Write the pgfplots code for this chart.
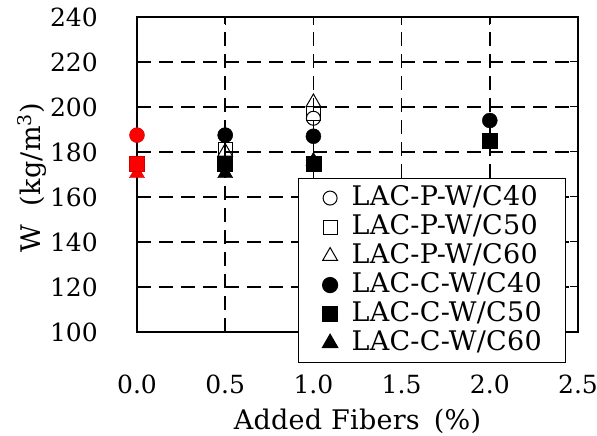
\documentclass[border=0pt]{standalone}
\usepackage{fontspec}
\setmainfont{DejaVu Serif}
\usepackage{pgfplots}
\pgfplotsset{compat=1.18}

\newcommand\tickfont{\fontsize{25}{30}\selectfont}
\newcommand\bigfont{\fontsize{27}{32}\selectfont\addfontfeatures{LetterSpace=1}}

\begin{document}
\begin{tikzpicture}
\begin{axis}[
  name=ax,
  scale only axis, width=441pt, height=315pt,
  xmin=0, xmax=2.5, ymin=100, ymax=240,
  xtick={0,0.5,1,1.5,2,2.5}, ytick={100,120,...,240},
  clip=false,
  grid=major,
  major grid style={black, line width=1.6pt, dash pattern=on 14pt off 8pt},
  axis line style={line width=1.2pt},
  tick style={black, line width=1pt},
  major tick length=8pt,
  tick align=inside,
  xticklabel style={font=\tickfont, anchor=base, yshift=-61pt,
    /pgf/number format/.cd, fixed, fixed zerofill, precision=1, assume math mode=true},
  yticklabel style={font=\tickfont, anchor=east, inner sep=0pt, xshift=-39pt,
    /pgf/number format/assume math mode=true},
  xlabel={Added Fibers\hspace{14pt}(\%)},
  ylabel={W\hspace{18pt}(kg/m\textsuperscript{3})},
  every axis x label/.style={at={(axis description cs:0.5,-0.311)}, anchor=base, font=\bigfont},
  every axis y label/.style={at={(axis description cs:-0.238,0.49)}, anchor=center, rotate=90, font=\bigfont},
  legend cell align=left,
  legend style={at={(0.365,0.489)}, anchor=north west, draw=black, line width=1.2pt,
    fill=white, font=\bigfont, inner xsep=24pt, inner ysep=5pt,
    nodes={inner sep=0pt, text height=22pt, text depth=7pt},
    /tikz/column sep=14pt, /tikz/row sep=0pt},
]
% LAC-P series (open marks)
\addplot[only marks, mark=o, mark size=7pt, mark options={black, line width=1pt}]
  coordinates {(0.5,187.5) (1.0,195)};
\addlegendentry{LAC-P-W/C40}
\addplot[only marks, mark=square, mark size=7pt, mark options={black, line width=1pt}]
  coordinates {(0.5,181) (1.0,197)};
\addlegendentry{LAC-P-W/C50}
\addplot[only marks, mark=triangle, mark size=8.5pt, mark options={black, line width=1pt}]
  coordinates {(0.5,180) (1.0,202)};
\addlegendentry{LAC-P-W/C60}
% LAC-C series (filled marks)
\addplot[only marks, mark=*, mark size=7.5pt, mark options={black, fill=black}]
  coordinates {(0.5,187.5) (1.0,187) (2.0,194)};
\addlegendentry{LAC-C-W/C40}
\addplot[only marks, mark=square*, mark size=7.5pt, mark options={black, fill=black}]
  coordinates {(0.5,175) (1.0,175) (2.0,185)};
\addlegendentry{LAC-C-W/C50}
\addplot[only marks, mark=triangle*, mark size=8.7pt, mark options={black, fill=black}]
  coordinates {(0.5,170.5) (1.0,176)};
\addlegendentry{LAC-C-W/C60}
% plain mix at 0 %
\addplot[forget plot, only marks, mark=*, mark size=7.5pt, mark options={draw=red!80!black, fill=red}]
  coordinates {(0,187.5)};
\addplot[forget plot, only marks, mark=triangle*, mark size=8.7pt, mark options={draw=red!80!black, fill=red}]
  coordinates {(0,170.5)};
\addplot[forget plot, only marks, mark=square*, mark size=7.5pt, mark options={draw=red!80!black, fill=red}]
  coordinates {(0,175)};
\end{axis}
\pgfresetboundingbox
\path (ax.south west) ++(-137pt,-104pt) rectangle ++(597pt,436pt);
\end{tikzpicture}
\end{document}
